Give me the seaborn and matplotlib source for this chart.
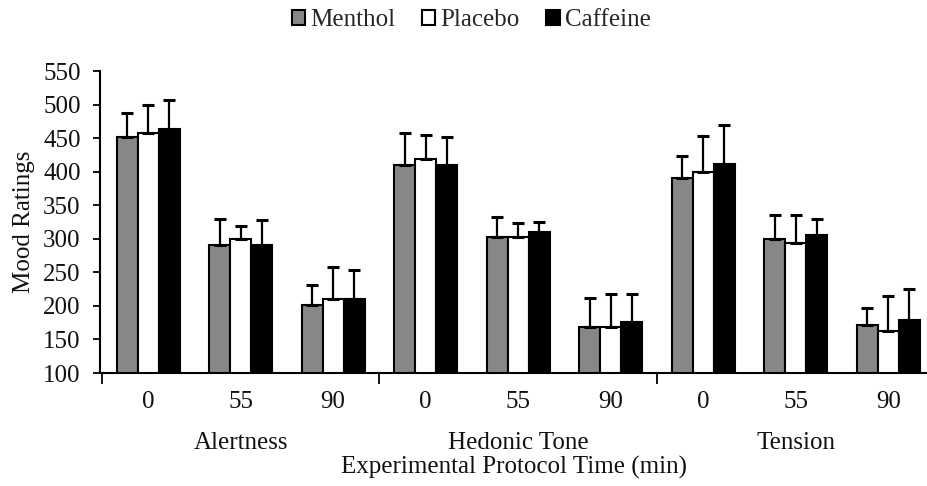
import matplotlib
matplotlib.use("Agg")
import matplotlib.pyplot as plt
import matplotlib.transforms as mtransforms
import numpy as np
import pandas as pd
import seaborn as sns

# Mood ratings (mean and SD) by subscale, protocol time and treatment
subscales = ["Alertness", "Hedonic Tone", "Tension"]
times = ["0", "55", "90"]
treatments = ["Menthol", "Placebo", "Caffeine"]

menthol_mean = [452, 291, 201, 410, 302, 169, 391, 299, 172]
placebo_mean = [458, 300, 210, 419, 302, 169, 399, 294, 163]
caffeine_mean = [464, 291, 210, 410, 310, 176, 411, 306, 179]

menthol_sd = [36, 39, 30, 48, 30, 43, 33, 37, 25]
placebo_sd = [41, 19, 48, 36, 21, 48, 54, 41, 51]
caffeine_sd = [43, 37, 43, 42, 15, 42, 59, 23, 46]

colors = ["#878787", "#ffffff", "#000000"]
FS = 18
TXT = "#111111"

groups = [f"{s}|{t}" for s in subscales for t in times]
rows = []
for name, means, sds in zip(treatments,
                            [menthol_mean, placebo_mean, caffeine_mean],
                            [menthol_sd, placebo_sd, caffeine_sd]):
    for g, m, s in zip(groups, means, sds):
        rows.append({"group": g, "treatment": name, "rating": m, "sd": s})
df = pd.DataFrame(rows)

sns.set_theme(style="white")
plt.rcParams["font.family"] = ["Liberation Serif", "DejaVu Serif"]

fig = plt.figure(figsize=(9.28, 4.86), dpi=100)
ax = fig.add_axes([100 / 928, 113 / 486, 828 / 928, 302 / 486])

sns.barplot(data=df, x="group", y="rating", hue="treatment",
            order=groups, hue_order=treatments, palette=colors,
            width=0.68, errorbar=None, edgecolor="black", linewidth=1.5,
            ax=ax, legend=True)

# Upper-only error bars at each bar centre
for cont, name in zip(ax.containers, treatments):
    sub = df[df["treatment"] == name].set_index("group").loc[groups]
    xs = [p.get_x() + p.get_width() / 2 for p in cont.patches]
    hs = [p.get_height() for p in cont.patches]
    sd = sub["sd"].values
    ax.errorbar(xs, hs, yerr=[np.zeros_like(sd), sd], fmt="none",
                ecolor="black", elinewidth=1.6, capsize=4, capthick=2.2,
                zorder=1)

ax.set_ylim(100, 550)
ax.set_yticks(np.arange(100, 551, 50))
ax.set_xlim(-0.52, 8.43)

for sp in ["top", "right"]:
    ax.spines[sp].set_visible(False)
for sp in ["left", "bottom"]:
    ax.spines[sp].set_color("black")
    ax.spines[sp].set_linewidth(1.5)

ax.tick_params(axis="y", left=True, length=5, width=1.3, color="black",
               labelsize=FS, pad=9, labelcolor=TXT)
ax.set_xticks(range(9))
ax.set_xticklabels(times * 3)
ax.tick_params(axis="x", which="major", bottom=False, length=0,
               labelsize=FS, pad=13, labelcolor=TXT)
ax.set_xticks([-0.5, 2.5, 5.5], minor=True)
ax.tick_params(axis="x", which="minor", bottom=True, length=8, width=1.3,
               color="black")

trans = mtransforms.blended_transform_factory(ax.transData, fig.transFigure)
for i, s in enumerate(subscales):
    ax.text(3 * i + 1, 1 - 443 / 486, s, transform=trans, ha="center",
            va="center", fontsize=FS, color=TXT)

ax.set_xlabel("")
fig.text(514 / 928, 1 - 467 / 486, "Experimental Protocol Time (min)",
         ha="center", va="center", fontsize=FS, color=TXT)
ax.set_ylabel("Mood Ratings", fontsize=FS, color=TXT, labelpad=6)

handles, labels = ax.get_legend_handles_labels()
ax.legend_.remove()
fig.legend(handles, labels, loc="center", bbox_to_anchor=(471 / 928, 1 - 20 / 486),
           ncol=3, frameon=False, fontsize=FS, handlelength=0.55,
           handleheight=0.55, handletextpad=0.2, columnspacing=1.05)

fig.savefig("out.png", dpi=100, facecolor="white")
